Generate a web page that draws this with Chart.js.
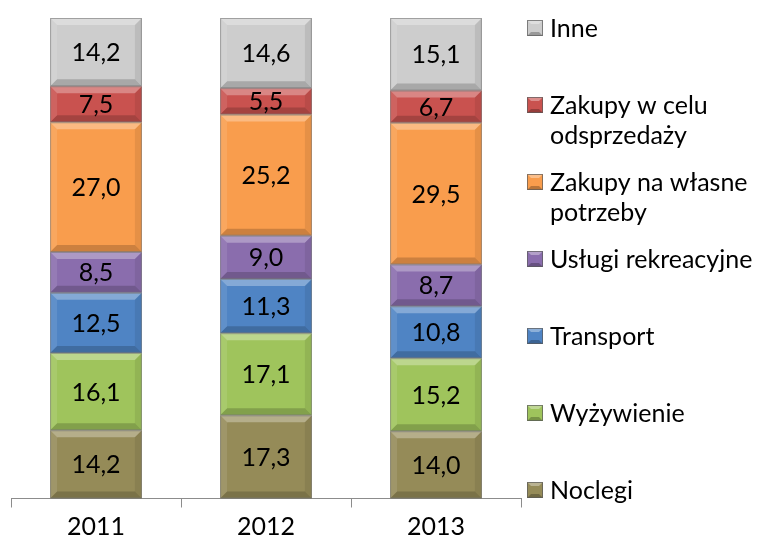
<!DOCTYPE html>
<html>
<head>
    <title>Struktura wydatków</title>
    <script src="https://cdn.jsdelivr.net/npm/chart.js"></script>
    <style>
        body { margin: 0; background: #fff; }
        #wrap { width: 761px; height: 547px; }
    </style>
</head>
<body>
    <div id="wrap"><canvas id="chart" width="761" height="547"></canvas></div>
    <script>
        // Dane (od dołu słupka do góry)
        const years = ['2011', '2012', '2013'];
        const seriesNames = ['Noclegi', 'Wyżywienie', 'Transport', 'Usługi rekreacyjne',
            'Zakupy na własne potrzeby', 'Zakupy w celu odsprzedaży', 'Inne'];
        const noclegi = [14.2, 17.3, 14.0];
        const wyzywienie = [16.1, 17.1, 15.2];
        const transport = [12.5, 11.3, 10.8];
        const uslugi = [8.5, 9.0, 8.7];
        const zakupyWlasne = [27.0, 25.2, 29.5];
        const zakupyOdsprzedaz = [7.5, 5.5, 6.7];
        const inne = [14.2, 14.6, 15.1];
        const seriesData = [noclegi, wyzywienie, transport, uslugi, zakupyWlasne, zakupyOdsprzedaz, inne];
        const colors = ['#958b58', '#9fc45c', '#4f84c4', '#8a6dad', '#f99d4d', '#c9524f', '#cdcdcd'];

        // legenda od góry, z podziałem na linie jak w oryginale
        const legendLines = [
            ['Inne'],
            ['Zakupy w celu', 'odsprzedaży'],
            ['Zakupy na własne', 'potrzeby'],
            ['Usługi rekreacyjne'],
            ['Transport'],
            ['Wyżywienie'],
            ['Noclegi']
        ];

        const FONT = 'Lato, "Open Sans", sans-serif';
        const FSIZE = 25;

        // efekt fazowania krawędzi słupków
        const bevelPlugin = {
            id: 'bevel',
            afterDatasetsDraw(chart) {
                const c = chart.ctx;
                chart.data.datasets.forEach((ds, i) => {
                    chart.getDatasetMeta(i).data.forEach(bar => {
                        const l = bar.x - bar.width / 2, r = bar.x + bar.width / 2;
                        const t = Math.min(bar.y, bar.base), b = Math.max(bar.y, bar.base);
                        const s = Math.min(7, (b - t) / 2);
                        c.save();
                        c.fillStyle = 'rgba(255,255,255,0.3)';
                        c.beginPath();
                        c.moveTo(l, t); c.lineTo(r, t); c.lineTo(r - s, t + s); c.lineTo(l + s, t + s);
                        c.closePath(); c.fill();
                        c.fillStyle = 'rgba(255,255,255,0.1)';
                        c.beginPath();
                        c.moveTo(l, t); c.lineTo(l + s, t + s); c.lineTo(l + s, b - s); c.lineTo(l, b);
                        c.closePath(); c.fill();
                        c.fillStyle = 'rgba(0,0,0,0.08)';
                        c.beginPath();
                        c.moveTo(r, t); c.lineTo(r - s, t + s); c.lineTo(r - s, b - s); c.lineTo(r, b);
                        c.closePath(); c.fill();
                        c.fillStyle = 'rgba(0,0,0,0.18)';
                        c.beginPath();
                        c.moveTo(l, b); c.lineTo(r, b); c.lineTo(r - s, b - s); c.lineTo(l + s, b - s);
                        c.closePath(); c.fill();
                        c.strokeStyle = 'rgba(120,120,120,0.6)';
                        c.lineWidth = 1;
                        c.strokeRect(l + 0.5, t + 0.5, r - l - 1, b - t - 1);
                        c.restore();
                    });
                });
            }
        };

        // etykiety wartości w środku segmentów
        const labelPlugin = {
            id: 'valueLabels',
            afterDatasetsDraw(chart) {
                const c = chart.ctx;
                c.save();
                c.font = FSIZE + 'px ' + FONT;
                c.fillStyle = '#000';
                c.textAlign = 'center';
                c.textBaseline = 'middle';
                chart.data.datasets.forEach((ds, i) => {
                    chart.getDatasetMeta(i).data.forEach((bar, j) => {
                        const v = ds.data[j].toFixed(1).replace('.', ',');
                        c.fillText(v, bar.x, (bar.y + bar.base) / 2 + 1);
                    });
                });
                c.restore();
            }
        };

        // legenda po prawej stronie
        const legendPlugin = {
            id: 'sideLegend',
            afterDraw(chart) {
                const c = chart.ctx;
                c.save();
                c.font = FSIZE + 'px ' + FONT;
                c.textBaseline = 'middle';
                legendLines.forEach((lines, k) => {
                    const y = 28 + k * 77;
                    const col = colors[colors.length - 1 - k];
                    c.fillStyle = col;
                    c.fillRect(527, y - 8, 16, 16);
                    c.fillStyle = 'rgba(255,255,255,0.35)';
                    c.beginPath();
                    c.moveTo(527, y - 8); c.lineTo(543, y - 8); c.lineTo(539, y - 4); c.lineTo(531, y - 4);
                    c.closePath(); c.fill();
                    c.fillStyle = 'rgba(0,0,0,0.25)';
                    c.beginPath();
                    c.moveTo(527, y + 8); c.lineTo(543, y + 8); c.lineTo(539, y + 4); c.lineTo(531, y + 4);
                    c.closePath(); c.fill();
                    c.strokeStyle = 'rgba(90,90,90,0.7)';
                    c.strokeRect(527.5, y - 7.5, 15, 15);
                    c.fillStyle = '#000';
                    lines.forEach((txt, n) => c.fillText(txt, 550, y + 1 + n * 30));
                });
                c.restore();
            }
        };

        new Chart(document.getElementById('chart'), {
            type: 'bar',
            data: {
                labels: years,
                datasets: seriesNames.map((name, i) => ({
                    label: name,
                    data: seriesData[i],
                    backgroundColor: colors[i],
                    borderWidth: 0,
                    barPercentage: 0.54,
                    categoryPercentage: 1.0
                }))
            },
            options: {
                responsive: false,
                animation: false,
                layout: { padding: { left: 11, right: 240, top: 18, bottom: 0 } },
                plugins: {
                    legend: { display: false },
                    tooltip: { enabled: false }
                },
                scales: {
                    x: {
                        stacked: true,
                        grid: {
                            offset: true,
                            drawOnChartArea: false,
                            drawTicks: true,
                            tickLength: 9,
                            color: '#8c8c8c'
                        },
                        border: { display: true, color: '#8c8c8c' },
                        ticks: {
                            color: '#000',
                            padding: 6,
                            font: { family: FONT, size: FSIZE, lineHeight: 1.1 }
                        }
                    },
                    y: {
                        stacked: true,
                        display: false,
                        min: 0,
                        max: 100
                    }
                }
            },
            plugins: [bevelPlugin, labelPlugin, legendPlugin]
        });
    </script>
</body>
</html>
